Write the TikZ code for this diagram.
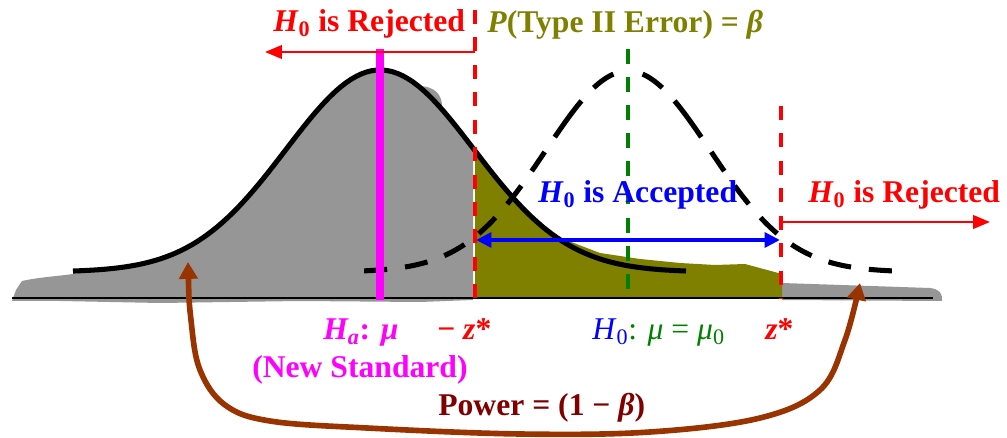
\documentclass[tikz,border=0pt]{standalone}
\usepackage{fontspec}
\setmainfont{Liberation Serif}
\usetikzlibrary{arrows.meta}
\definecolor{grayfill}{HTML}{969696}
\definecolor{olivefill}{HTML}{808000}
\definecolor{magentaC}{HTML}{FF00FF}
\definecolor{redC}{HTML}{FF0000}
\definecolor{greenC}{HTML}{008000}
\definecolor{blueC}{HTML}{0000FF}
\definecolor{maroonC}{HTML}{800000}
\definecolor{brownC}{HTML}{993300}
\newcommand{\Hnull}{\textit{H}\textsubscript{0}}
\begin{document}
\begin{tikzpicture}[x=0.025cm,y=-0.025cm,
  lbl/.style={font=\fontsize{22.5}{27}\selectfont\bfseries, inner sep=0pt, anchor=base west},
  lblnormal/.style={font=\fontsize{22.5}{27}\selectfont, inner sep=0pt, anchor=base west},
  curveline/.style={line width=3.6pt, line join=round},
  halfdash/.style={curveline, dash pattern=on 0pt off 10.7pt on 17.1pt off 12.8pt on 32pt off 12.8pt
     on 16.4pt off 12.8pt on 16.4pt off 12.8pt on 16.4pt off 12.8pt on 16.4pt off 12.8pt
     on 16.4pt off 12.8pt on 16.4pt off 12.8pt on 16.4pt off 12.8pt on 16.4pt off 12.8pt},
  reddash/.style={redC, line width=2.2pt, dash pattern=on 10pt off 9.5pt},
  greendash/.style={greenC, line width=2.2pt, dash pattern=on 10.5pt off 9.5pt},
  redarrow/.style={redC, line width=1.9pt, -{Triangle[length=12pt,width=9.5pt]}},
  bluearrow/.style={blueC, line width=2.8pt, {Triangle[length=11pt,width=10.5pt]}-{Triangle[length=11pt,width=10.5pt]}},
  brownarrow/.style={brownC, line width=4pt, {Triangle[length=12pt,width=13pt]}-{Triangle[length=12pt,width=13pt]}}]
\useasboundingbox (0,0) rectangle (1007,438);

% gray area under alternative curve
\fill[grayfill] (12,301) -- (16,290) -- (22,281) .. controls (40,277) and (60,276) .. (73,274)
  -- plot[domain=73:473,samples=90] (\x,{272-202*exp(-((\x-380)/94)^2/2)})
  -- (473,300) -- (420,302) -- (300,301) -- (160,303) -- (60,301) -- cycle;
\fill[grayfill] (418,86) .. controls (436,86) and (442,96) .. (442,106) -- (428,104) -- cycle;
% right gray strip
\fill[grayfill] (782,283) -- (930,288) .. controls (940,289) and (943,295) .. (942,301) -- (782,300) -- cycle;
% olive area (Type II error)
\fill[olivefill] (475,298) -- plot[domain=475:560,samples=30] (\x,{270-202*exp(-((\x-380)/94)^2/2)})
  -- (600,253) -- (640,259) -- (680,263) -- (715,265) -- (745,264) -- (782,274) -- (782,298) -- cycle;

% baseline
\draw[line width=1.2pt] (12,298) -- (933,298);

% curves
\draw[curveline] plot[domain=73:686,samples=120] (\x,{272-202*exp(-((\x-380)/94)^2/2)});
\draw[halfdash] plot[domain=628:362,samples=80] (\x,{272-201*exp(-((\x-628)/82)^2/2)});
\draw[halfdash] plot[domain=628:895,samples=80] (\x,{272-201*exp(-((\x-628)/82)^2/2)});

% vertical markers
\coordinate (magT) at (380,49);
\coordinate (magB) at (380,300);
\draw[magentaC, line width=5pt] (magT) -- (magB);
\coordinate (zlT) at (475,10);
\coordinate (zlB) at (475,298);
\coordinate (zrT) at (781,106);
\coordinate (zrB) at (781,298);
\coordinate (muT) at (628,49);
\coordinate (muB) at (628,289);
\draw[reddash] (zlT) -- (zlB);
\draw[reddash] (zrT) -- (zrB);
\draw[greendash] (muT) -- (muB);

% arrows
\coordinate (raL0) at (475,52);
\coordinate (raL1) at (265,52);
\coordinate (raR0) at (781,222);
\coordinate (raR1) at (990,222);
\coordinate (baL) at (476,240);
\coordinate (baR) at (780,240);
\draw[redarrow] (raL0) -- (raL1);
\draw[redarrow] (raR0) -- (raR1);
\draw[bluearrow] (baL) -- (baR);

\coordinate (pL) at (188,262);
\coordinate (pR) at (860,283);
\draw[brownarrow] plot[smooth,tension=0.6] coordinates {(pL) (191,320) (200,370) (225,405) (270,421) (367,428) (520,434) (650,432) (760,418) (820,390) (845,340) (pR)};

% labels
\node[lbl, text=redC] (rejL) at (273,32) {\Hnull{} is Rejected};
\node[lbl, text=olivefill] (typeII) at (487,33) {\textit{P}(Type II Error) = \textit{β}};
\node[lbl, text=blueC] (acc) at (538,203) {\Hnull{} is Accepted};
\node[lbl, text=redC] (rejR) at (808,203) {\Hnull{} is Rejected};
\node[lbl, text=magentaC] (ha) at (323,340) {\textit{H\textsubscript{a}}: \textit{μ}};
\node[lbl, text=redC] (mz) at (437,340) {− \textit{z}*};
\node[lblnormal, text=greenC] (h0) at (592,340) {\textcolor{blueC}{\textit{H}\textsubscript{0}}: \textit{μ} = \textit{μ}\textsubscript{0}};
\node[lbl, text=redC] (zs) at (765,340) {\textit{z}*};
\node[lbl, text=magentaC] (ns) at (252,378) {(New Standard)};
\node[lbl, text=maroonC] (pow) at (438,416) {Power = (1 − \textit{β})};
\end{tikzpicture}
\end{document}
